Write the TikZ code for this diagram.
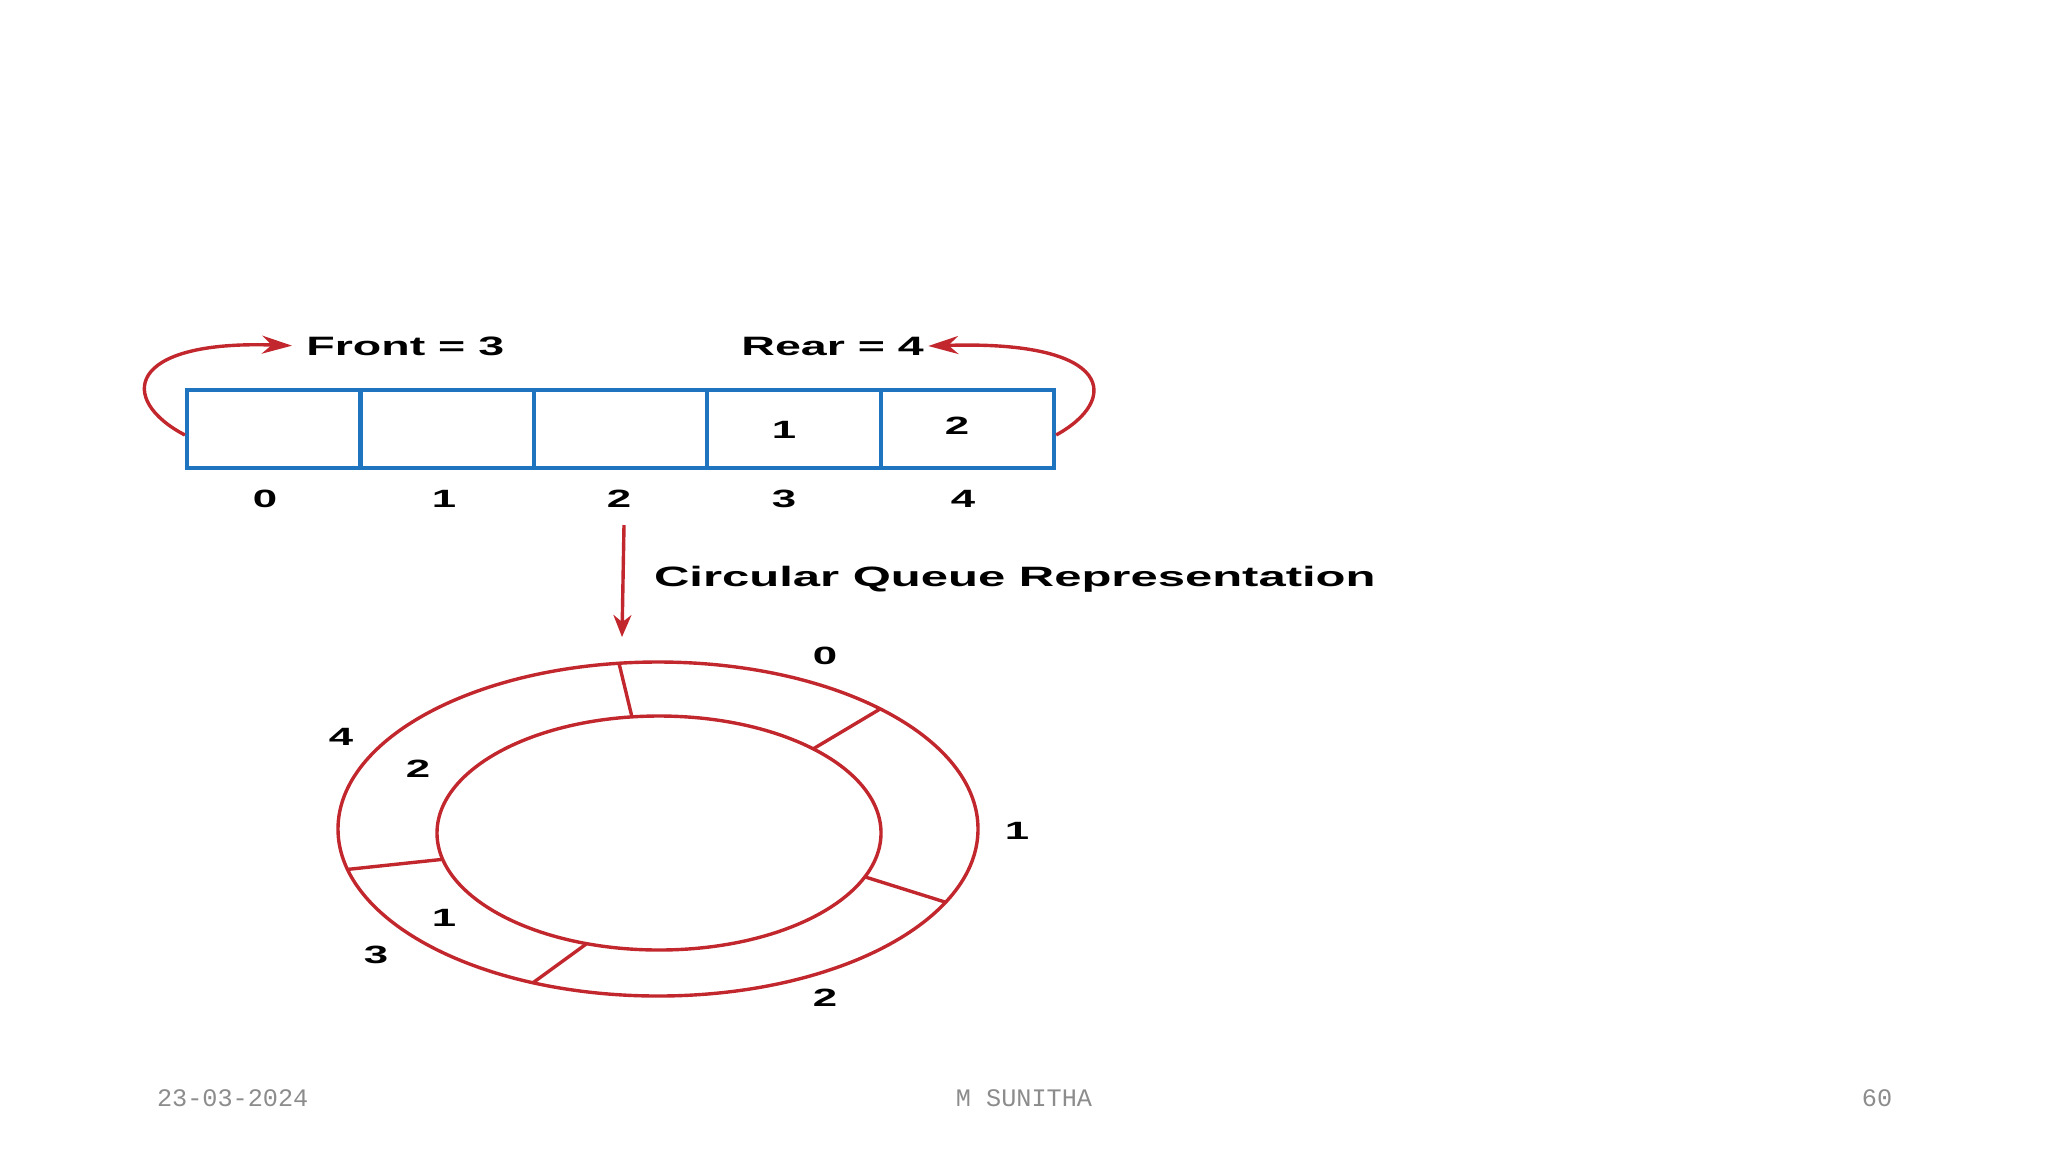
\documentclass[tikz,border=0pt]{standalone}
\usepackage{fontspec}
\setmainfont{Liberation Sans}[FakeStretch=1.75]
\setmonofont{Liberation Mono}
\usetikzlibrary{arrows.meta,calc}
\definecolor{qred}{HTML}{C1272D}
\definecolor{qblue}{HTML}{1F74BF}
\begin{document}
\begin{tikzpicture}[x=0.5pt,y=-0.5pt,>={Stealth[length=15pt,width=9pt]},
  cell/.style={draw=qblue,line width=2.1pt,minimum width=86.7pt,minimum height=39pt,inner sep=0pt},
  lbl/.style={font=\fontsize{12.5}{15}\selectfont\bfseries,inner sep=1pt},
  ptr/.style={font=\fontsize{13.3}{16}\selectfont\bfseries,inner sep=2pt},
  ring/.style={draw=qred,line width=1.7pt},
  foot/.style={font=\ttfamily\fontsize{12.6}{14}\selectfont,text=black!45}]
  \useasboundingbox (0,0) rectangle (2048,1152);
  % array with its indices
  \foreach \i in {0,...,4}
    \node[cell] (c\i) at ({273.7+173.4*\i},429) {};
  \node[lbl] (v3) at (784,430) {1};
  \node[lbl] (v4) at (957,426) {2};
  \foreach \i/\x in {0/265,1/444,2/619,3/784,4/963}
    \node[lbl] (i\i) at (\x,499) {\i};
  \node[ptr,anchor=west] (front) at (302,346) {Front = 3};
  \node[ptr,anchor=west] (rear) at (737,346) {Rear = 4};
  \draw[->,ring,shorten >=5pt] ([yshift=-3pt]c0.west) .. controls (118,400) and (125,340) .. (front.west);
  \draw[->,ring] ([yshift=-3pt]c4.east) .. controls (1120,400) and (1115,340) .. (rear.east);
  % down to the ring
  \coordinate (dtop) at (624,525);
  \coordinate (dbot) at (622,637);
  \draw[->,ring,>={Stealth[length=11pt,width=9pt]}] (dtop) -- (dbot);
  \node[anchor=west,font=\fontsize{14}{17}\selectfont\bfseries] (title) at (647,579) {Circular Queue Representation};
  % ring
  \coordinate (oc) at (658,829);
  \coordinate (ic) at (659,833);
  \draw[ring] (oc) ellipse [x radius=160pt,y radius=83.5pt];
  \draw[ring] (ic) ellipse [x radius=111pt,y radius=58.5pt];
  \foreach \a/\b in {97/97,46/46,-26/-22,-113/-109,-166/-167}
    \draw[ring] ($(oc)+(\a:160pt and 83.5pt)$) -- ($(ic)+(\b:111pt and 58.5pt)$);
  \node[lbl] (r0) at (825,656) {0};
  \node[lbl] (r1) at (1017,831) {1};
  \node[lbl] (r2) at (825,998) {2};
  \node[lbl] (r3) at (376,955) {3};
  \node[lbl] (r4) at (341,737) {4};
  \node[lbl] (k2) at (418,769) {2};
  \node[lbl] (k1) at (444,918) {1};
  % footer
  \node[foot,anchor=west] (date) at (150,1098) {23-03-2024};
  \node[foot] (name) at (1024,1098) {M SUNITHA};
  \node[foot] (page) at (1877,1098) {60};
\end{tikzpicture}
\end{document}
